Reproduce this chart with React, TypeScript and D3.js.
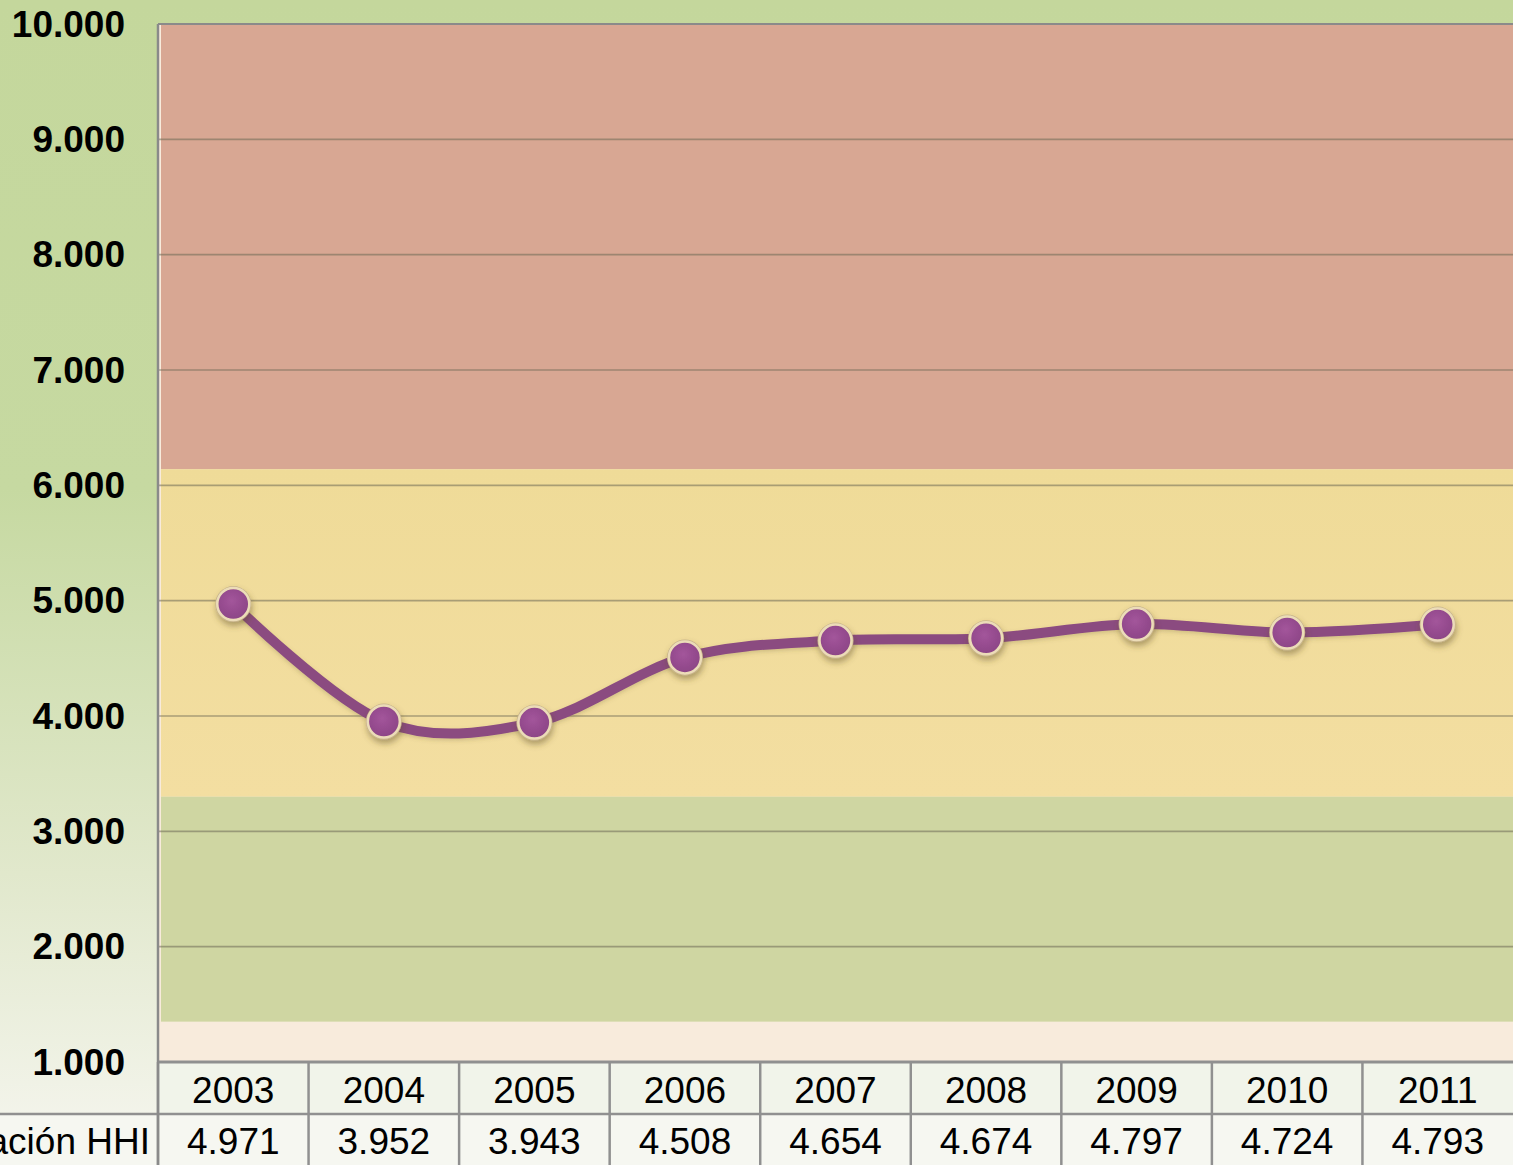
import React from "react";
import * as d3 from "d3";

const years = ["2003", "2004", "2005", "2006", "2007", "2008", "2009", "2010", "2011"];
const hhi = [4971, 3952, 3943, 4508, 4654, 4674, 4797, 4724, 4793];
const yTicks = [1000, 2000, 3000, 4000, 5000, 6000, 7000, 8000, 9000, 10000];
const bands = [
  { from: 6140, to: 10000, color: "#d8a793" },
  { from: 3300, to: 6140, color: "url(#yellowBand)" },
  { from: 1350, to: 3300, color: "#cfd6a2" },
];
const rowLabel = "Concentración HHI";

const W = 1513;
const H = 1165;
const left = 158;
const top = 24;
const bottom = 1062;
const right = 1513;

const fmt = (v: number) => {
  const s = String(v);
  return s.length > 3 ? s.slice(0, s.length - 3) + "." + s.slice(-3) : s;
};

export default function App() {
  const y = d3.scaleLinear().domain([1000, 10000]).range([bottom, top]);
  const x = d3.scaleBand().domain(years).range([left, right]).padding(0);
  const cx = (yr: string) => (x(yr) as number) + x.bandwidth() / 2;
  const line = d3
    .line<number>()
    .x((_, i) => cx(years[i]))
    .y((d) => y(d))
    .curve(d3.curveCardinal.tension(0));
  const rowTop = bottom;
  const rowMid = 1114;

  return (
    <svg
      width={W}
      height={H}
      style={{ position: "absolute", left: 0, top: 0, fontFamily: "'Liberation Sans', Arial, sans-serif" }}
    >
      <defs>
        <linearGradient id="bg" x1="0" y1="0" x2="0" y2="1">
          <stop offset="0" stopColor="#c4d79c" />
          <stop offset="0.42" stopColor="#c6d9a1" />
          <stop offset="0.75" stopColor="#e1e8cc" />
          <stop offset="1" stopColor="#f6f6f0" />
        </linearGradient>
        <linearGradient id="yellowBand" x1="0" y1="0" x2="0" y2="1">
          <stop offset="0" stopColor="#efdb98" />
          <stop offset="1" stopColor="#f3dea1" />
        </linearGradient>
        <radialGradient id="marker" cx="0.45" cy="0.4" r="0.6">
          <stop offset="0" stopColor="#a3559b" />
          <stop offset="1" stopColor="#8c4586" />
        </radialGradient>
        <filter id="shadow" x="-50%" y="-50%" width="200%" height="200%">
          <feDropShadow dx="1" dy="4" stdDeviation="3" floodColor="#5a4a20" floodOpacity="0.45" />
        </filter>
        <filter id="lineShadow" x="-5%" y="-20%" width="110%" height="140%">
          <feDropShadow dx="0" dy="2" stdDeviation="2" floodColor="#6a5a30" floodOpacity="0.25" />
        </filter>
      </defs>

      <rect x={0} y={0} width={W} height={H} fill="url(#bg)" />

      {/* plot area */}
      <rect x={left} y={top} width={right - left} height={bottom - top} fill="#f8ebdc" />
      {bands.map((b, i) => (
        <rect
          key={i}
          x={left + 3}
          y={y(b.to)}
          width={right - left - 3}
          height={y(b.from) - y(b.to)}
          fill={b.color}
        />
      ))}

      {/* gridlines */}
      {yTicks
        .filter((t) => t !== 1000 && t !== 10000)
        .map((t) => (
          <line
            key={t}
            x1={left}
            x2={right}
            y1={y(t)}
            y2={y(t)}
            stroke="#6e6a55"
            strokeOpacity={0.55}
            strokeWidth={1.6}
          />
        ))}
      <line x1={left} x2={right} y1={top} y2={top} stroke="#8a8a8a" strokeWidth={2} />

      {/* y tick labels */}
      {yTicks.map((t) => (
        <text
          key={t}
          x={125}
          y={y(t)}
          textAnchor="end"
          dominantBaseline="central"
          fontSize={37}
          fontWeight="bold"
          fill="#000"
        >
          {fmt(t)}
        </text>
      ))}

      {/* table */}
      <rect x={left} y={rowTop} width={right - left} height={rowMid - rowTop} fill="#f1f4ea" />
      <rect x={0} y={rowMid} width={W} height={H - rowMid} fill="#f6f7f1" />
      <line x1={left} x2={right} y1={rowTop} y2={rowTop} stroke="#909090" strokeWidth={3} />
      <line x1={0} x2={right} y1={rowMid} y2={rowMid} stroke="#909090" strokeWidth={2.5} />
      {years.map((yr) => (
        <line
          key={yr}
          x1={x(yr) as number}
          x2={x(yr) as number}
          y1={rowTop}
          y2={H}
          stroke="#909090"
          strokeWidth={2.5}
        />
      ))}
      <line x1={left} x2={left} y1={top} y2={H} stroke="#8a8a8a" strokeWidth={2.5} />
      {years.map((yr) => (
        <text
          key={yr}
          x={cx(yr)}
          y={(rowTop + rowMid) / 2 + 2}
          textAnchor="middle"
          dominantBaseline="central"
          fontSize={37}
          fill="#000"
        >
          {yr}
        </text>
      ))}
      {hhi.map((v, i) => (
        <text
          key={i}
          x={cx(years[i])}
          y={1141}
          textAnchor="middle"
          dominantBaseline="central"
          fontSize={37}
          fill="#000"
        >
          {fmt(v)}
        </text>
      ))}
      <text x={150} y={1141} textAnchor="end" dominantBaseline="central" fontSize={37} fill="#000">
        {rowLabel}
      </text>

      {/* series */}
      <path
        d={line(hhi) as string}
        fill="none"
        stroke="#8b4b80"
        strokeWidth={10}
        strokeLinecap="round"
        filter="url(#lineShadow)"
      />
      {hhi.map((v, i) => (
        <g key={i} filter="url(#shadow)">
          <circle cx={cx(years[i])} cy={y(v)} r={18} fill="#c8b48a" />
          <circle
            cx={cx(years[i])}
            cy={y(v)}
            r={16}
            fill="url(#marker)"
            stroke="#ecdcb8"
            strokeWidth={2.5}
          />
        </g>
      ))}
    </svg>
  );
}
